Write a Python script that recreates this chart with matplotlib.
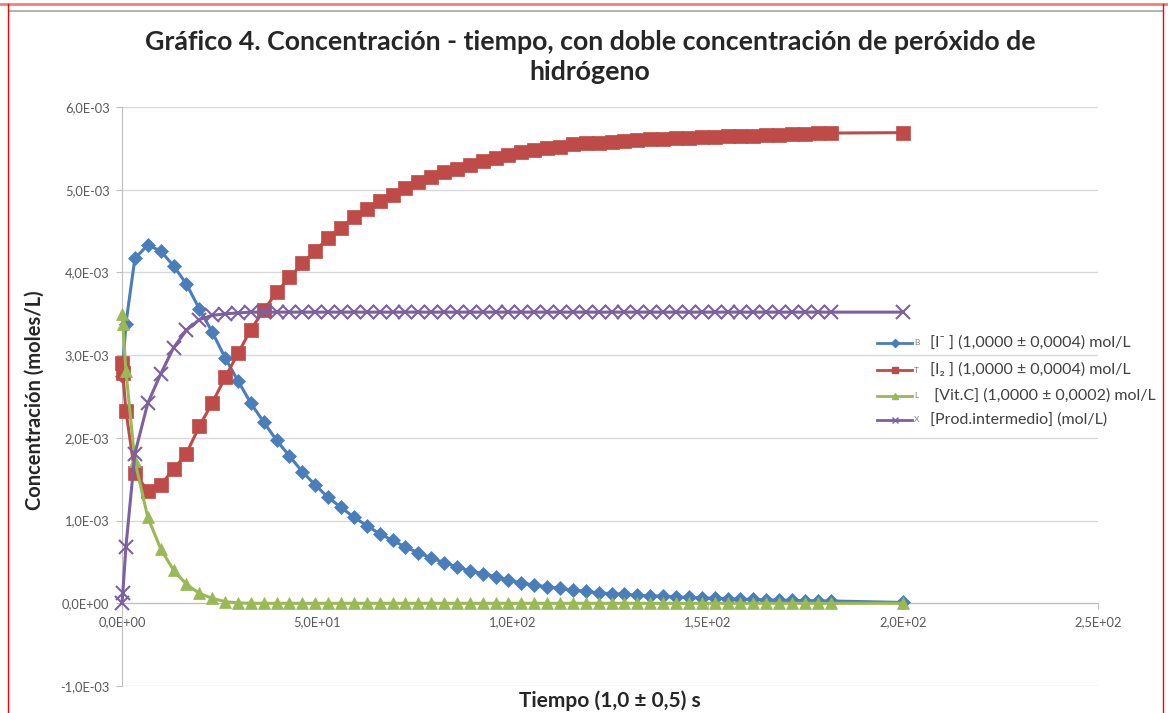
import matplotlib
matplotlib.use("Agg")
import matplotlib.pyplot as plt
from matplotlib.ticker import FuncFormatter, MultipleLocator
from matplotlib.lines import Line2D

# ---------------- data ----------------
tiempo = [0.0, 0.2, 1.0,
          3.3, 6.6, 9.9, 13.2, 16.5, 19.8, 23.1, 26.4, 29.7, 33.0,
          36.3, 39.6, 42.9, 46.2, 49.5, 52.8, 56.1, 59.4, 62.7, 66.0,
          69.3, 72.6, 75.9, 79.2, 82.5, 85.8, 89.1, 92.4, 95.7, 99.0,
          102.3, 105.6, 108.9, 112.2, 115.5, 118.8, 122.1, 125.4, 128.7, 132.0,
          135.3, 138.6, 141.9, 145.2, 148.5, 151.8, 155.1, 158.4, 161.7, 165.0,
          168.3, 171.6, 174.9, 178.2, 181.5,
          200.0]

# values in 1e-3 mol/L
yoduro = [2.75, 2.85, 3.38,
          4.17, 4.33, 4.26, 4.08, 3.86, 3.56, 3.28, 2.97, 2.69, 2.42,
          2.19, 1.97, 1.78, 1.59, 1.43, 1.28, 1.16, 1.04, 0.94, 0.84,
          0.76, 0.68, 0.61, 0.55, 0.49, 0.44, 0.39, 0.36, 0.32, 0.28,
          0.245, 0.22, 0.20, 0.18, 0.157, 0.145, 0.125, 0.117, 0.109, 0.097,
          0.090, 0.085, 0.076, 0.070, 0.065, 0.060, 0.055, 0.050, 0.046, 0.042,
          0.038, 0.035, 0.032, 0.030, 0.028,
          0.010]

yodo = [2.91, 2.79, 2.33,
        1.57, 1.36, 1.43, 1.62, 1.81, 2.14, 2.42, 2.73, 3.02, 3.31,
        3.54, 3.76, 3.94, 4.11, 4.26, 4.42, 4.54, 4.67, 4.77, 4.86,
        4.94, 5.02, 5.09, 5.15, 5.21, 5.25, 5.30, 5.35, 5.38, 5.42,
        5.45, 5.48, 5.50, 5.52, 5.55, 5.56, 5.57, 5.58, 5.59, 5.60,
        5.61, 5.615, 5.62, 5.63, 5.635, 5.64, 5.645, 5.65, 5.655, 5.66,
        5.665, 5.67, 5.675, 5.68, 5.685,
        5.69]

vitc = [3.50, 3.38, 2.81,
        1.72, 1.04, 0.66, 0.40, 0.23, 0.12, 0.06, 0.02, 0.005, 0.0,
        0.0, 0.0, 0.0, 0.0, 0.0, 0.0, 0.0, 0.0, 0.0, 0.0,
        0.0, 0.0, 0.0, 0.0, 0.0, 0.0, 0.0, 0.0, 0.0, 0.0,
        0.0, 0.0, 0.0, 0.0, 0.0, 0.0, 0.0, 0.0, 0.0, 0.0,
        0.0, 0.0, 0.0, 0.0, 0.0, 0.0, 0.0, 0.0, 0.0, 0.0,
        0.0, 0.0, 0.0, 0.0, 0.0,
        0.0]

intermedio = [0.0, 0.12, 0.68,
              1.81, 2.42, 2.77, 3.09, 3.30, 3.43, 3.48, 3.50, 3.51, 3.52,
              3.52, 3.52, 3.52, 3.52, 3.52, 3.52, 3.52, 3.52, 3.52, 3.52,
              3.52, 3.52, 3.52, 3.52, 3.52, 3.52, 3.52, 3.52, 3.52, 3.52,
              3.52, 3.52, 3.52, 3.52, 3.52, 3.52, 3.52, 3.52, 3.52, 3.52,
              3.52, 3.52, 3.52, 3.52, 3.52, 3.52, 3.52, 3.52, 3.52, 3.52,
              3.52, 3.52, 3.52, 3.52, 3.52,
              3.52]

series_labels = ["[I⁻ ] (1,0000 ± 0,0004) mol/L",
                 "[I₂ ] (1,0000 ± 0,0004) mol/L",
                 " [Vit.C] (1,0000 ± 0,0002) mol/L",
                 "[Prod.intermedio] (mol/L)"]
legend_letters = ["B", "T", "L", "X"]
colors = ["#4A7EBB", "#BE4B48", "#98B954", "#7D60A0"]
markers = ["D", "s", "^", "x"]
msizes = [7.5, 9.5, 9, 9.5]

title = "Gráfico 4. Concentración - tiempo, con doble concentración de peróxido de\nhidrógeno"
xlabel = "Tiempo (1,0 ± 0,5) s"
ylabel = "Concentración (moles/L)"

# ---------------- figure ----------------
FAM = ["Lato", "DejaVu Sans"]
plt.rcParams["font.family"] = FAM

W, H = 1168, 713
fig = plt.figure(figsize=(W / 100, H / 100), dpi=100)
fig.patch.set_facecolor("white")

L, R, T, B = 122, 1098, 107, 686
ax = fig.add_axes([L / W, 1 - B / H, (R - L) / W, (B - T) / H])
ax.set_xlim(0, 250)
ax.set_ylim(-1e-3, 6e-3)

all_series = [yoduro, yodo, vitc, intermedio]
for vals, c, m, ms in zip(all_series, colors, markers, msizes):
    ax.plot(tiempo, [v * 1e-3 for v in vals], color=c, lw=2.2, marker=m,
            markersize=ms, markeredgewidth=1.5 if m == "x" else 0.5,
            markeredgecolor=c, markerfacecolor=c, clip_on=False, zorder=3)

ax.yaxis.set_major_locator(MultipleLocator(1e-3))
ax.xaxis.set_major_locator(MultipleLocator(50))
fmt = FuncFormatter(lambda v, p: f"{v:.1E}".replace(".", ","))
ax.xaxis.set_major_formatter(fmt)
ax.yaxis.set_major_formatter(fmt)

for s in ["top", "right"]:
    ax.spines[s].set_visible(False)
ax.spines["bottom"].set_position(("data", 0))
ax.spines["bottom"].set_color("#BFBFBF")
ax.spines["left"].set_color("#BFBFBF")
ax.spines["bottom"].set_zorder(1)
ax.grid(axis="y", color="#D9D9D9", lw=1.0)
ax.set_axisbelow(True)
ax.tick_params(axis="both", colors="#BFBFBF", labelcolor="#595959",
               labelsize=9.3, length=4, width=0.8)
ax.tick_params(axis="x", pad=5)
ax.tick_params(axis="y", pad=5)

# texts
fig.text(590 / W, 1 - 57 / H, title, ha="center", va="center",
         fontsize=19.3, fontweight="bold", color="#262626", linespacing=1.3)
fig.text(610 / W, 1 - 701 / H, xlabel, ha="center", va="center",
         fontsize=15, fontweight="bold", color="#262626")
fig.text(35 / W, 1 - 400 / H, ylabel, ha="center", va="center", rotation=90,
         fontsize=14.5, fontweight="bold", color="#262626")

# legend (manual, no frame)
rows = [343, 370, 396, 420]
for y, lab, let, c, m in zip(rows, series_labels, legend_letters, colors, markers):
    yf = 1 - y / H
    fig.add_artist(Line2D([877 / W, 912 / W], [yf, yf], color=c, lw=2,
                          transform=fig.transFigure))
    fig.add_artist(Line2D([894.5 / W], [yf], color=c, marker=m, markersize=4.5,
                          markeredgewidth=1, transform=fig.transFigure))
    fig.text(914 / W, yf, let, ha="left", va="center", fontsize=6, color="#7F7F7F")
    fig.text(930 / W, yf, lab, ha="left", va="center", fontsize=11.5, color="#404040")

# border decorations
fig.add_artist(Line2D([0, 1], [1 - 4 / H, 1 - 4 / H], color="#F08080", lw=2,
                      transform=fig.transFigure))
fig.add_artist(Line2D([9 / W, 1163 / W], [1 - 11 / H, 1 - 11 / H], color="#A6A6A6", lw=1.2,
                      transform=fig.transFigure))
fig.add_artist(Line2D([8 / W, 8 / W], [0, 1 - 4 / H], color="#FF0000", lw=1,
                      transform=fig.transFigure))
fig.add_artist(Line2D([1163 / W, 1163 / W], [0, 1 - 4 / H], color="#FF0000", lw=1,
                      transform=fig.transFigure))

fig.savefig("out.png", dpi=100)
